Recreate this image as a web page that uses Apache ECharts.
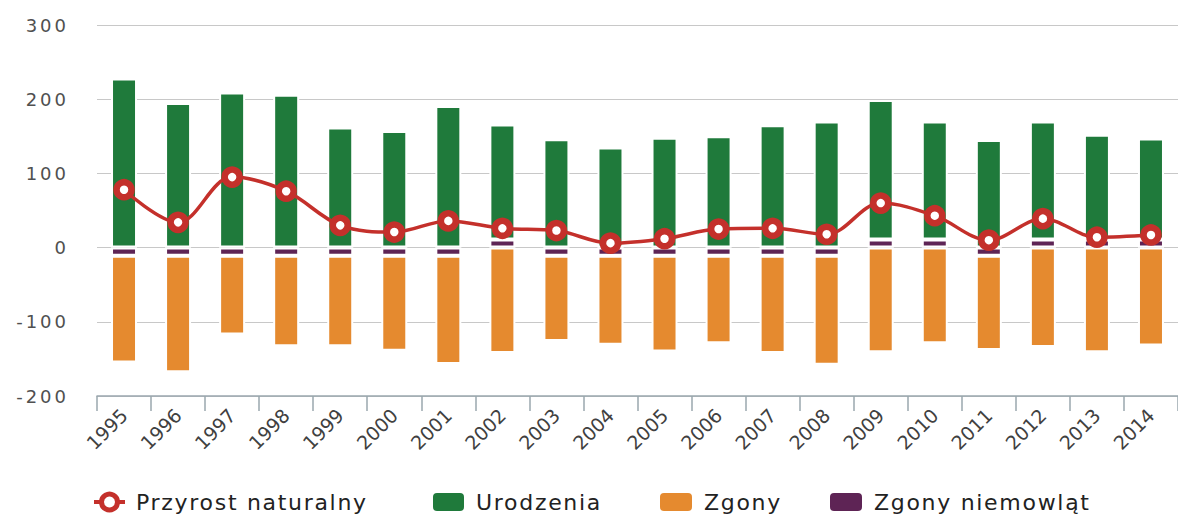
<!DOCTYPE html>
<html>
<head>
<meta charset="utf-8">
<script src="https://cdn.jsdelivr.net/npm/echarts@6/dist/echarts.min.js"></script>
<style>
html,body{margin:0;padding:0;background:#fff;}
#chart{width:1178px;height:515px;}
</style>
</head>
<body>
<div id="chart"></div>
<script>
const years = ['1995','1996','1997','1998','1999','2000','2001','2002','2003','2004','2005','2006','2007','2008','2009','2010','2011','2012','2013','2014'];
const przyrost = [78, 34, 95, 76, 30, 21, 36, 26, 23, 6, 12, 25, 26, 18, 60, 43, 10, 39, 14, 17];
const urodzenia = [228, 195, 209, 206, 162, 157, 191, 155, 146, 135, 148, 150, 165, 170, 188, 159, 145, 159, 141, 136];
const zgony = [-144, -157, -106, -122, -122, -128, -146, -142, -115, -120, -129, -118, -131, -147, -141, -129, -127, -134, -141, -132];
const zgonyNiemowlat = [-11, -11, -11, -11, -11, -11, -11, 11, -11, -11, -11, -11, -11, -11, 11, 11, -11, 11, 11, 11];
const yTicks = [-200, -100, 0, 100, 200, 300];

const FONT = 'DejaVu Sans';
const RED = '#c4302b';
const chart = echarts.init(document.getElementById('chart'), null, {renderer: 'svg'});

function legendAt(item, left, w) {
  return {
    data: [item], left: left, top: 491, padding: 0,
    itemWidth: w, itemHeight: 20,
    textStyle: {fontFamily: FONT, fontSize: 22, lineHeight: 20, color: '#222', padding: [0, 0, 0, 6]},
    selectedMode: false
  };
}

const option = {
  animation: false,
  backgroundColor: '#fff',
  grid: {left: 97, right: -10, top: 25, bottom: 119},
  legend: [
    legendAt({name: 'Przyrost naturalny', itemStyle: {borderWidth: 5}, lineStyle: {width: 4}}, 92, 31),
    legendAt('Urodzenia', 431, 33),
    legendAt('Zgony', 658, 34),
    legendAt('Zgony niemowląt', 828, 34)
  ],
  xAxis: {
    type: 'category', data: years, boundaryGap: true,
    axisLine: {onZero: false, lineStyle: {color: '#9aa7ae', width: 1.5}},
    axisTick: {show: true, length: 15, lineStyle: {color: '#9aa7ae', width: 1.5}},
    axisLabel: {interval: 0, rotate: 45, margin: 16, fontFamily: FONT, fontSize: 19, color: '#404040'},
    splitLine: {show: false}
  },
  yAxis: {
    type: 'value', min: yTicks[0], max: yTicks[yTicks.length - 1], interval: 100,
    axisLine: {show: false}, axisTick: {show: false},
    axisLabel: {margin: 28, fontFamily: FONT, fontSize: 18, color: '#505050'},
    splitLine: {lineStyle: {color: '#c8c8c8', width: 1}}
  },
  series: [
    {name: 'Zgony niemowląt', type: 'bar', stack: 'a', data: zgonyNiemowlat, barWidth: 26,
      itemStyle: {color: '#5e2455', borderColor: '#fff', borderWidth: 2}},
    {name: 'Urodzenia', type: 'bar', stack: 'a', data: urodzenia, barWidth: 26,
      itemStyle: {color: '#1f7a3b', borderColor: '#fff', borderWidth: 2}},
    {name: 'Zgony', type: 'bar', stack: 'a', data: zgony, barWidth: 26,
      itemStyle: {color: '#e58a2f', borderColor: '#fff', borderWidth: 2}},
    {name: 'Przyrost naturalny', type: 'line', data: przyrost, smooth: 0.35,
      symbol: 'circle', symbolSize: 15, showSymbol: true,
      lineStyle: {color: RED, width: 3.5},
      itemStyle: {color: '#fff', borderColor: RED, borderWidth: 6.5}, z: 5}
  ]
};
chart.setOption(option);

function applySpacing() {
  chart.getDom().querySelectorAll('text').forEach(t => {
    const fs = parseFloat(getComputedStyle(t).fontSize);
    if (fs === 22) t.style.letterSpacing = '1.7px';
    else if (fs === 18) t.style.letterSpacing = '3px';
  });
}
chart.on('finished', applySpacing);
applySpacing();
</script>
</body>
</html>
